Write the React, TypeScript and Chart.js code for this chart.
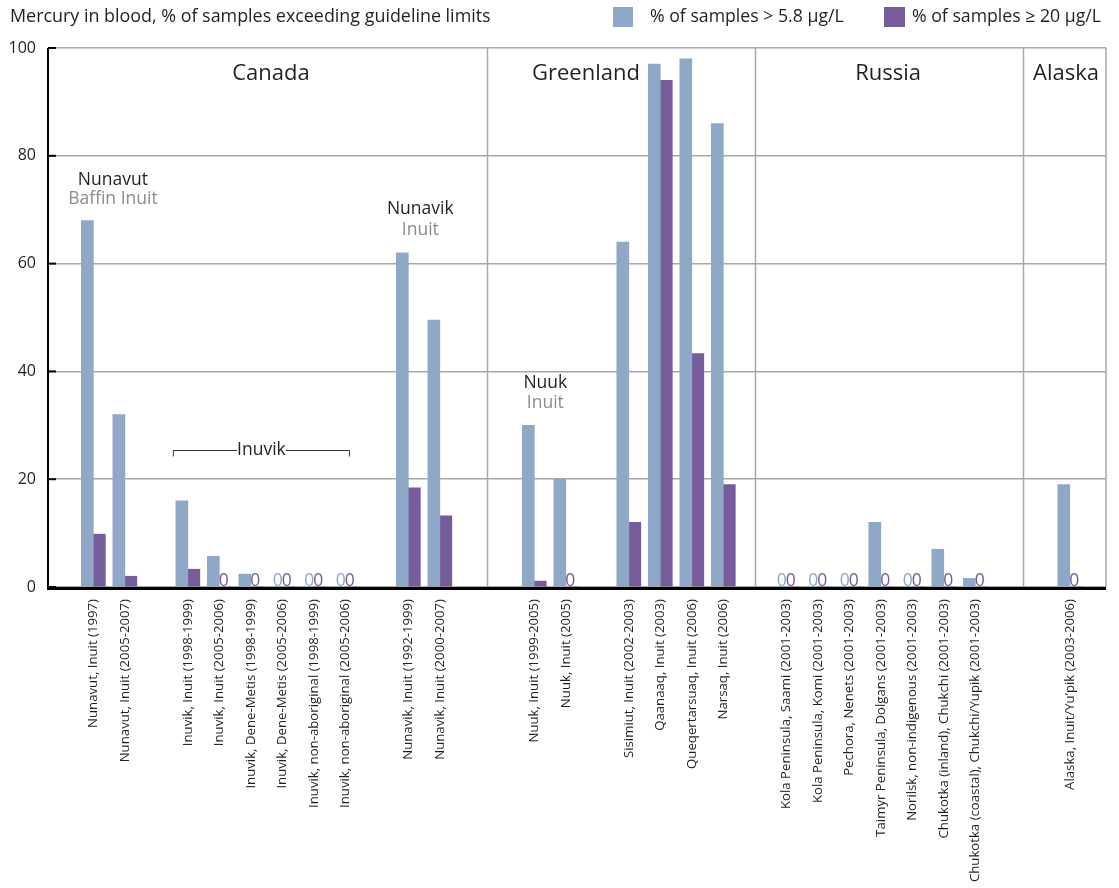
import React, { useEffect, useRef } from 'react';
import { Chart, registerables } from 'chart.js';

Chart.register(...registerables);

const TITLE = 'Mercury in blood, % of samples exceeding guideline limits';
const SERIES_NAMES = ['% of samples > 5.8 µg/L', '% of samples ≥ 20 µg/L'];

// '' marks an empty spacing slot between groups
const categories = [
  'Nunavut, Inuit (1997)',
  'Nunavut, Inuit (2005-2007)',
  '',
  'Inuvik, Inuit (1998-1999)',
  'Inuvik, Inuit (2005-2006)',
  'Inuvik, Dene-Metis (1998-1999)',
  'Inuvik, Dene-Metis (2005-2006)',
  'Inuvik, non-aboriginal (1998-1999)',
  'Inuvik, non-aboriginal (2005-2006)',
  '',
  'Nunavik, Inuit (1992-1999)',
  'Nunavik, Inuit (2000-2007)',
  '',
  '',
  'Nuuk, Inuit (1999-2005)',
  'Nuuk, Inuit (2005)',
  '',
  'Sisimiut, Inuit (2002-2003)',
  'Qaanaaq, Inuit (2003)',
  'Queqertarsuaq, Inuit (2006)',
  'Narsaq, Inuit (2006)',
  '',
  'Kola Peninsula, Saami (2001-2003)',
  'Kola Peninsula, Komi (2001-2003)',
  'Pechora, Nenets (2001-2003)',
  'Taimyr Peninsula, Dolgans (2001-2003)',
  'Norilsk, non-indigenous (2001-2003)',
  'Chukotka (inland), Chukchi (2001-2003)',
  'Chukotka (coastal), Chukchi/Yupik (2001-2003)',
  '',
  '',
  'Alaska, Inuit/Yu\u2019pik (2003-2006)',
];

const above58 = [68, 32, null, 16, 5.7, 2.4, 0, 0, 0, null, 62, 49.5, null, null, 30, 20, null, 64, 97, 98, 86, null, 0, 0, 0, 12, 0, 7, 1.6, null, null, 19];
const above20 = [9.8, 2, null, 3.3, 0, 0, 0, 0, 0, null, 18.4, 13.2, null, null, 1.1, 0, null, 12, 94, 43.3, 19, null, 0, 0, 0, 0, 0, 0, 0, null, null, 0];

const yTicks = [0, 20, 40, 60, 80, 100];

const regions = [
  { name: 'Canada', first: 0, last: 11, labelAt: 5.64 },
  { name: 'Greenland', first: 14, last: 20, labelAt: 15.64 },
  { name: 'Russia', first: 22, last: 28, labelAt: 25.23 },
  { name: 'Alaska', first: 31, last: 31, labelAt: 30.88 },
];

const subgroups = [
  { name: 'Nunavut', sub: 'Baffin Inuit', at: 0.62, y: 75.6, ySub: 71.9 },
  { name: 'Nunavik', sub: 'Inuit', at: 10.38, y: 70.1, ySub: 66.2 },
  { name: 'Nuuk', sub: 'Inuit', at: 14.35, y: 37.9, ySub: 34.2 },
];

const bracket = { name: 'Inuvik', from: 2.54, to: 8.13, y: 25.5, yEnd: 24.2 };

const BLUE = '#8fa8c8';
const PURPLE = '#775c9c';
const GRID = '#a8a8a8';
const TEXT = '#231f20';
const SUBTEXT = '#8c8c8c';
const FONT = '"Open Sans", "Noto Sans", sans-serif';

const realIdx = categories.map((c, i) => (c ? i : -1)).filter((i) => i >= 0);
const toPoints = (arr: (number | null)[]) =>
  arr.map((v, i) => (v === null ? null : { x: i, y: v })).filter(Boolean) as { x: number; y: number }[];

const annotPlugin = {
  id: 'annot',
  beforeDatasetsDraw(chart: any) {
    const { ctx, chartArea: ca, scales } = chart;
    const x = scales.x;
    ctx.save();
    ctx.strokeStyle = GRID;
    ctx.lineWidth = 1.5;
    for (let i = 0; i < regions.length - 1; i++) {
      const px = Math.round(x.getPixelForValue((regions[i].last + regions[i + 1].first) / 2)) + 0.5;
      ctx.beginPath();
      ctx.moveTo(px, ca.top);
      ctx.lineTo(px, ca.bottom);
      ctx.stroke();
    }
    ctx.beginPath();
    ctx.moveTo(ca.right, ca.top);
    ctx.lineTo(ca.right, ca.bottom);
    ctx.stroke();
    ctx.restore();
  },
  afterDatasetsDraw(chart: any) {
    const { ctx, chartArea: ca, scales } = chart;
    const x = scales.x;
    const y = scales.y;
    ctx.save();
    // axes
    ctx.strokeStyle = '#000';
    ctx.lineWidth = 2;
    ctx.beginPath();
    ctx.moveTo(ca.left, ca.top);
    ctx.lineTo(ca.left, ca.bottom + 2);
    ctx.stroke();
    for (const t of yTicks) {
      const py = y.getPixelForValue(t);
      ctx.beginPath();
      ctx.moveTo(ca.left, py);
      ctx.lineTo(ca.left + 8, py);
      ctx.stroke();
    }
    ctx.lineWidth = 3;
    ctx.beginPath();
    ctx.moveTo(ca.left - 1, ca.bottom + 1.5);
    ctx.lineTo(ca.right, ca.bottom + 1.5);
    ctx.stroke();

    // zero labels
    ctx.font = `17.5px ${FONT}`;
    ctx.textAlign = 'center';
    ctx.textBaseline = 'alphabetic';
    chart.data.datasets.forEach((ds: any, di: number) => {
      const meta = chart.getDatasetMeta(di);
      meta.data.forEach((el: any, j: number) => {
        if (ds.data[j].y === 0) {
          ctx.fillStyle = di === 0 ? BLUE : PURPLE;
          ctx.fillText('0', el.x + (di === 0 ? 1.5 : -1.5), ca.bottom - 1);
        }
      });
    });

    // region labels
    ctx.fillStyle = TEXT;
    ctx.font = `22px ${FONT}`;
    ctx.textBaseline = 'middle';
    for (const r of regions) {
      ctx.fillText(r.name, x.getPixelForValue(r.labelAt), y.getPixelForValue(95.2));
    }

    // subgroup labels
    ctx.font = `17.5px ${FONT}`;
    for (const s of subgroups) {
      const px = x.getPixelForValue(s.at);
      ctx.fillStyle = TEXT;
      ctx.fillText(s.name, px, y.getPixelForValue(s.y));
      ctx.fillStyle = SUBTEXT;
      ctx.fillText(s.sub, px, y.getPixelForValue(s.ySub));
    }

    // bracket
    const bx0 = x.getPixelForValue(bracket.from);
    const bx1 = x.getPixelForValue(bracket.to);
    const by = Math.round(y.getPixelForValue(bracket.y)) + 0.5;
    const byEnd = y.getPixelForValue(bracket.yEnd);
    const cx = (bx0 + bx1) / 2;
    ctx.fillStyle = TEXT;
    const tw = ctx.measureText(bracket.name).width;
    ctx.strokeStyle = '#333';
    ctx.lineWidth = 1;
    ctx.beginPath();
    ctx.moveTo(bx0, byEnd);
    ctx.lineTo(bx0, by);
    ctx.lineTo(cx - tw / 2, by);
    ctx.moveTo(cx + tw / 2, by);
    ctx.lineTo(bx1, by);
    ctx.lineTo(bx1, byEnd);
    ctx.stroke();
    ctx.fillText(bracket.name, cx, by);
    ctx.restore();
  },
  afterDraw(chart: any) {
    const { ctx } = chart;
    ctx.save();
    ctx.fillStyle = TEXT;
    ctx.textBaseline = 'middle';
    ctx.textAlign = 'left';
    ctx.font = `17.9px ${FONT}`;
    ctx.fillText(TITLE, 10, 17);
    ctx.fillStyle = BLUE;
    ctx.fillRect(613, 7, 20, 20);
    ctx.fillStyle = PURPLE;
    ctx.fillRect(884, 7, 21, 20);
    ctx.fillStyle = TEXT;
    ctx.font = `17.7px ${FONT}`;
    ctx.fillText(SERIES_NAMES[0], 650, 17);
    ctx.fillText(SERIES_NAMES[1], 912, 17);
    ctx.restore();
  },
};

export default function App() {
  const ref = useRef<HTMLCanvasElement | null>(null);
  useEffect(() => {
    if (!ref.current) return;
    const chart = new Chart(ref.current, {
      type: 'bar',
      data: {
        datasets: [
          { label: SERIES_NAMES[0], data: toPoints(above58) as any, backgroundColor: BLUE, barThickness: 12 },
          { label: SERIES_NAMES[1], data: toPoints(above20) as any, backgroundColor: PURPLE, barThickness: 12 },
        ],
      },
      options: {
        responsive: false,
        animation: false,
        layout: { padding: { top: 48, right: 13, left: 0, bottom: 0 } },
        plugins: { legend: { display: false }, title: { display: false }, tooltip: { enabled: false } },
        scales: {
          x: {
            type: 'linear',
            min: -1.44,
            max: 32.15,
            offset: false,
            grid: { display: false, drawTicks: false },
            border: { display: false },
            afterBuildTicks: (axis: any) => {
              axis.ticks = realIdx.map((v) => ({ value: v }));
            },
            afterFit: (axis: any) => {
              axis.height = 301;
            },
            ticks: {
              autoSkip: false,
              minRotation: 90,
              maxRotation: 90,
              padding: 12,
              color: TEXT,
              font: { family: FONT, size: 13.2 },
              callback: (v: any) => categories[v as number] ?? '',
            },
          },
          y: {
            min: 0,
            max: 100,
            afterBuildTicks: (axis: any) => {
              axis.ticks = yTicks.map((v) => ({ value: v }));
            },
            afterFit: (axis: any) => {
              axis.width = 48;
            },
            grid: { color: GRID, lineWidth: 1.5, drawTicks: false },
            border: { display: false },
            ticks: { padding: 12, color: TEXT, font: { family: FONT, size: 16 } },
          },
        },
      } as any,
      plugins: [annotPlugin],
    });
    return () => chart.destroy();
  }, []);
  return (
    <div style={{ position: 'fixed', left: 0, top: 0, width: 1119, height: 888, background: '#fff' }}>
      <canvas ref={ref} width={1119} height={888} style={{ display: 'block' }} />
    </div>
  );
}
